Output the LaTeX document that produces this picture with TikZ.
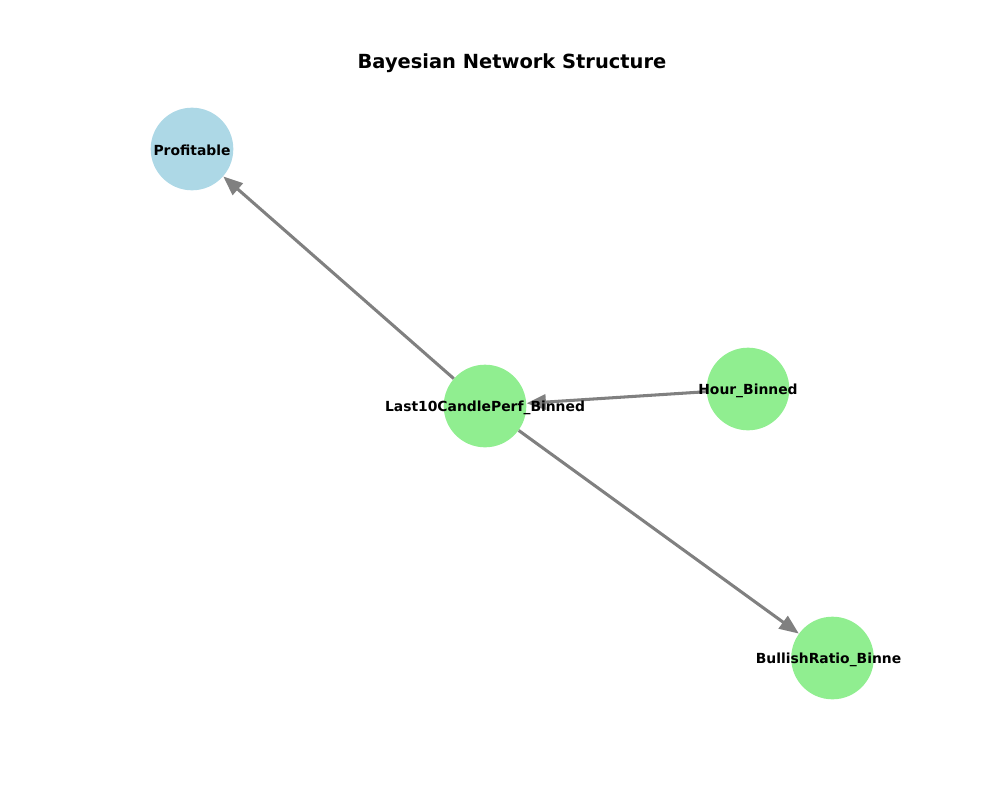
\documentclass[tikz,border=0pt]{standalone}
\usepackage{fontspec}
\setmainfont{DejaVu Sans}
\usetikzlibrary{arrows.meta}
\definecolor{nodeblue}{RGB}{173,216,230}
\definecolor{nodegreen}{RGB}{144,238,144}
\definecolor{edgegray}{RGB}{128,128,128}
\begin{document}
\begin{tikzpicture}[x=0.72pt,y=-0.72pt,
  bnnode/.style={circle,inner sep=0pt,minimum size=59.5pt},
  bnlabel/.style={font=\bfseries\fontsize{10}{12}\selectfont,inner sep=0pt,yshift=-1pt},
  bnedge/.style={draw=edgegray,line width=2.2pt,-{Triangle[length=14pt,width=11pt]}}]
\useasboundingbox (0,0) rectangle (1000,800);
\node[font=\bfseries\fontsize{14}{16}\selectfont] (title) at (512,63) {Bayesian Network Structure};
\node[bnnode,fill=nodeblue] (prof) at (192,149) {};
\node[bnnode,fill=nodegreen] (last) at (485,406) {};
\node[bnnode,fill=nodegreen] (hour) at (748,389) {};
\node[bnnode,fill=nodegreen] (bull) at (832.5,658) {};
\draw[bnedge] (last) -- (prof);
\draw[bnedge] (hour) -- (last);
\draw[bnedge] (last) -- (bull);
\node[bnlabel] (lprof) at (prof) {Profitable};
\node[bnlabel] (llast) at (last) {Last10CandlePerf\_Binned};
\node[bnlabel] (lhour) at (hour) {Hour\_Binned};
\node[bnlabel,anchor=west] (lbull) at ([xshift=-55.4pt]bull.center) {BullishRatio\_Binne};
\end{tikzpicture}
\end{document}
